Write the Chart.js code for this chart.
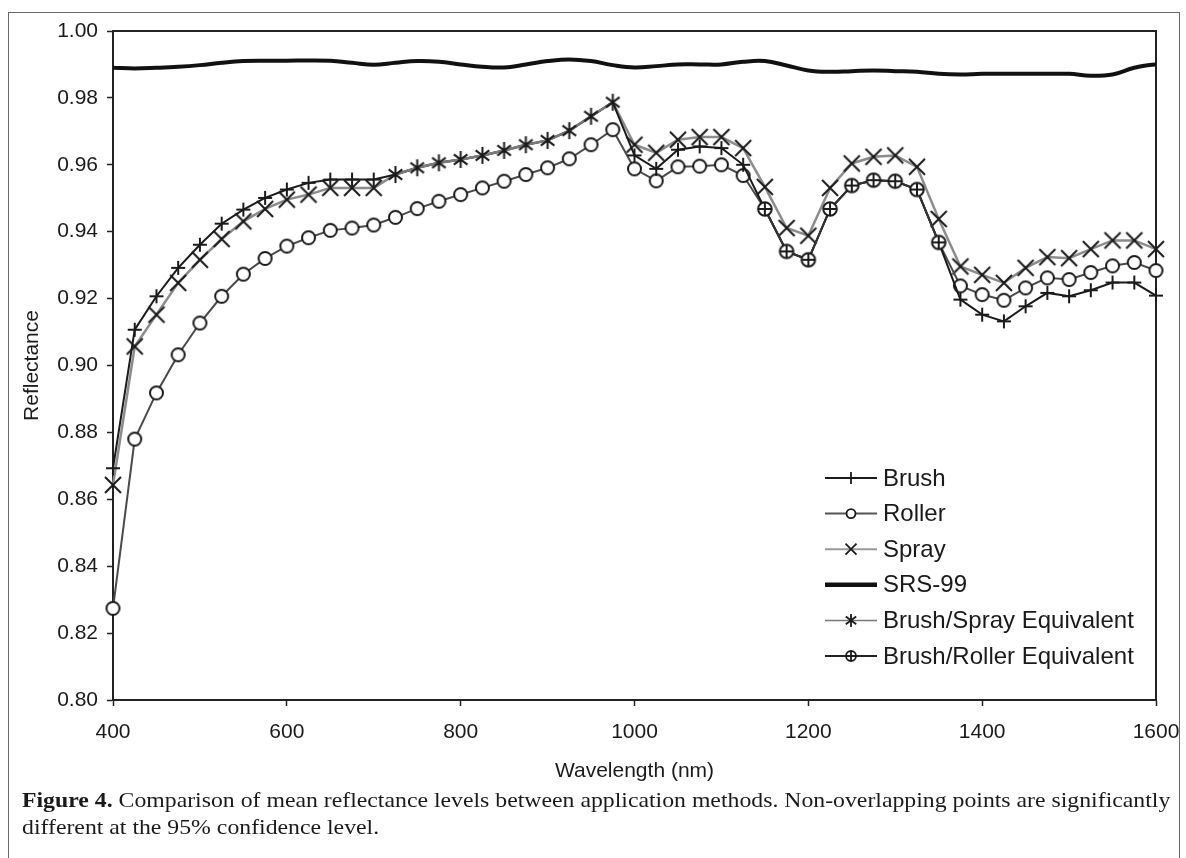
<!DOCTYPE html>
<html>
<head>
<meta charset="utf-8">
<script src="https://cdn.jsdelivr.net/npm/chart.js@4.4.1/dist/chart.umd.min.js"></script>
<style>
  html, body { margin: 0; padding: 0; background: #fff; }
  body { width: 1186px; height: 858px; position: relative; overflow: hidden; }
  #frame { position: absolute; left: 8px; top: 12px; width: 1170px; height: 900px; border: 1.5px solid #6a6a6a; }
  #c { position: absolute; left: 0; top: 0; }
  #caption { position: absolute; left: 22px; top: 786px; font-family: "Liberation Serif", "Times New Roman", serif;
             font-size: 22px; line-height: 27px; color: #1a1a1a; white-space: nowrap;
             transform: scaleX(1.08); transform-origin: left top; }
</style>
</head>
<body>
<div id="frame"></div>
<canvas id="c" width="1186" height="790"></canvas>
<div id="caption"><b>Figure 4.</b> Comparison of mean reflectance levels between application methods. Non-overlapping points are significantly<br>different at the 95% confidence level.</div>
<script>
// --- data ---
const wavelength = [400,425,450,475,500,525,550,575,600,625,650,675,700,
  725,750,775,800,825,850,875,900,925,950,975,
  1000,1025,1050,1075,1100,1125,
  1150,1175,1200,1225,1250,1275,1300,1325,1350,
  1375,1400,1425,1450,1475,1500,1525,1550,1575,1600,1625];

const brush = [0.8693,0.9107,0.9207,0.9292,0.9361,0.9424,0.9466,0.9501,0.9526,0.9546,0.9556,0.9556,0.9556,
  0.9571,0.9591,0.9606,0.9616,0.9628,0.9643,0.9660,0.9673,0.9702,0.9745,0.9787,
  0.9628,0.9588,0.9645,0.9655,0.9650,0.9600,
  0.9468,0.9341,0.9316,0.9468,0.9538,0.9554,0.9551,0.9526,0.9368,
  0.9197,0.9152,0.9132,0.9177,0.9217,0.9207,0.9225,0.9248,0.9248,0.9209,0.9137];

const roller = [0.8274,0.8780,0.8918,0.9032,0.9127,0.9207,0.9273,0.9320,0.9357,0.9382,0.9404,0.9411,0.9420,
  0.9443,0.9469,0.9491,0.9511,0.9531,0.9551,0.9571,0.9591,0.9618,0.9660,0.9705,
  0.9588,0.9552,0.9594,0.9596,0.9600,0.9568,
  0.9468,0.9341,0.9316,0.9468,0.9538,0.9554,0.9551,0.9526,0.9368,
  0.9238,0.9212,0.9195,0.9232,0.9262,0.9257,0.9278,0.9298,0.9308,0.9284,0.9220];

const spray = [0.8643,0.9057,0.9152,0.9247,0.9316,0.9378,0.9431,0.9468,0.9496,0.9511,0.9531,0.9531,0.9531,
  0.9571,0.9591,0.9606,0.9616,0.9628,0.9643,0.9660,0.9673,0.9702,0.9745,0.9787,
  0.9660,0.9636,0.9675,0.9683,0.9683,0.9650,
  0.9534,0.9411,0.9388,0.9531,0.9604,0.9624,0.9628,0.9594,0.9438,
  0.9296,0.9271,0.9247,0.9292,0.9324,0.9321,0.9348,0.9374,0.9374,0.9348,0.9278];

const srs99 = [0.9890,0.9888,0.9890,0.9893,0.9898,0.9905,0.9910,0.9911,0.9911,0.9912,0.9911,0.9905,0.9899,
  0.9905,0.9910,0.9908,0.9900,0.9893,0.9891,0.9900,0.9910,0.9915,0.9910,0.9898,
  0.9891,0.9895,0.9900,0.9900,0.9900,0.9908,
  0.9910,0.9897,0.9882,0.9878,0.9880,0.9882,0.9880,0.9878,0.9872,
  0.9870,0.9872,0.9872,0.9872,0.9872,0.9872,0.9866,0.9870,0.9890,0.9900,0.9890];

const brushSprayEq = [null,null,null,null,null,null,null,null,null,null,null,null,null,
  0.9571,0.9591,0.9606,0.9616,0.9628,0.9643,0.9660,0.9673,0.9702,0.9745,0.9787,
  null,null,null,null,null,null,
  null,null,null,null,null,null,null,null,null,
  null,null,null,null,null,null,null,null,null,null,null];

const brushRollerEq = [null,null,null,null,null,null,null,null,null,null,null,null,null,
  null,null,null,null,null,null,null,null,null,null,null,
  null,null,null,null,null,null,
  0.9468,0.9341,0.9316,0.9468,0.9538,0.9554,0.9551,0.9526,0.9368,
  null,null,null,null,null,null,null,null,null,null,null];

const yTicks = [0.80,0.82,0.84,0.86,0.88,0.90,0.92,0.94,0.96,0.98,1.00];
const xTicks = [400,600,800,1000,1200,1400,1600];

// --- markers ---
function drawMarker(g, kind, x, y, s) {
  g.beginPath();
  if (kind === "plus") {
    g.moveTo(x - s, y); g.lineTo(x + s, y);
    g.moveTo(x, y - s); g.lineTo(x, y + s);
    g.stroke();
  } else if (kind === "cross") {
    g.moveTo(x - s, y - s); g.lineTo(x + s, y + s);
    g.moveTo(x + s, y - s); g.lineTo(x - s, y + s);
    g.stroke();
  } else if (kind === "star") {
    const d = s * 0.8;
    g.moveTo(x - d, y - d * 0.75); g.lineTo(x + d, y + d * 0.75);
    g.moveTo(x + d, y - d * 0.75); g.lineTo(x - d, y + d * 0.75);
    g.moveTo(x, y - s); g.lineTo(x, y + s);
    g.stroke();
  } else if (kind === "circle" || kind === "oplus") {
    g.arc(x, y, s, 0, Math.PI * 2);
    g.fillStyle = "#fff"; g.fill(); g.stroke();
    if (kind === "oplus") {
      g.beginPath();
      g.moveTo(x - s, y); g.lineTo(x + s, y);
      g.moveTo(x, y - s); g.lineTo(x, y + s);
      g.stroke();
    }
  }
}
function markerCanvas(kind, s, lw) {
  const c = document.createElement("canvas");
  const n = Math.ceil(2 * s + lw + 2);
  c.width = c.height = n;
  const g = c.getContext("2d");
  g.strokeStyle = "#1a1a1a"; g.lineWidth = lw;
  drawMarker(g, kind, n / 2, n / 2, s);
  return c;
}
const mPlus = markerCanvas("plus", 7, 2);
const mCircle = markerCanvas("circle", 6.5, 2);
const mCross = markerCanvas("cross", 8, 2);
const mStar = markerCanvas("star", 8.5, 2);
const mOplus = markerCanvas("oplus", 6.8, 2);

const pts = arr => wavelength.map((w, i) => ({ x: w, y: arr[i] }));
const hideWhere = (...eqs) => c => eqs.some(e => e[c.dataIndex] !== null) ? 0 : 6;
const clip = { left: 14, top: 10, right: 9, bottom: 10 };

// --- legend drawn into the plot ---
const legendPlugin = {
  id: "inlegend",
  afterDraw(chart) {
    const ctx = chart.ctx;
    ctx.save();
    chart.data.datasets.forEach((ds, i) => {
      const y = 478 + i * 35.6;
      ctx.strokeStyle = ds.legendColor; ctx.lineWidth = ds.legendWidth;
      ctx.beginPath(); ctx.moveTo(825, y); ctx.lineTo(877, y); ctx.stroke();
      if (ds.legendMarker) {
        ctx.strokeStyle = "#1a1a1a"; ctx.lineWidth = 1.8;
        drawMarker(ctx, ds.legendMarker, 851, y, ds.legendSize);
      }
      ctx.fillStyle = "#1a1a1a";
      ctx.font = "24px 'Liberation Sans', Arial, sans-serif";
      ctx.textBaseline = "middle"; ctx.textAlign = "left";
      ctx.fillText(ds.label, 883, y + 1);
    });
    ctx.restore();
  }
};
const framePlugin = {
  id: "plotframe",
  beforeDatasetsDraw(chart) {
    const { ctx, chartArea: a } = chart;
    ctx.save();
    ctx.strokeStyle = "#222"; ctx.lineWidth = 2;
    ctx.beginPath(); ctx.moveTo(a.left, a.top); ctx.lineTo(a.right, a.top); ctx.lineTo(a.right, a.bottom); ctx.stroke();
    ctx.restore();
  }
};

Chart.defaults.font.family = "'Liberation Sans', Arial, sans-serif";
Chart.defaults.color = "#1a1a1a";

new Chart(document.getElementById("c"), {
  type: "line",
  data: {
    datasets: [
      { label: "Brush", data: pts(brush), borderColor: "#1a1a1a", borderWidth: 2, order: 3,
        pointStyle: mPlus, pointRadius: hideWhere(brushSprayEq, brushRollerEq),
        legendColor: "#1a1a1a", legendWidth: 2, legendMarker: "plus", legendSize: 6 },
      { label: "Roller", data: pts(roller), borderColor: "#4a4a4a", borderWidth: 2, order: 4,
        pointStyle: mCircle, pointRadius: hideWhere(brushRollerEq),
        legendColor: "#555", legendWidth: 2, legendMarker: "circle", legendSize: 4.5 },
      { label: "Spray", data: pts(spray), borderColor: "#8c8c8c", borderWidth: 2.5, order: 5,
        pointStyle: mCross, pointRadius: hideWhere(brushSprayEq),
        legendColor: "#999", legendWidth: 2, legendMarker: "cross", legendSize: 5.5 },
      { label: "SRS-99", data: pts(srs99), borderColor: "#111", borderWidth: 4, order: 6,
        pointRadius: 0, tension: 0.4,
        legendColor: "#111", legendWidth: 4.5, legendMarker: null },
      { label: "Brush/Spray Equivalent", data: pts(brushSprayEq), borderColor: "#7a7a7a", borderWidth: 2.5, order: 2,
        pointStyle: mStar, pointRadius: 6,
        legendColor: "#777", legendWidth: 1.5, legendMarker: "star", legendSize: 6.5 },
      { label: "Brush/Roller Equivalent", data: pts(brushRollerEq), borderColor: "#333", borderWidth: 2, order: 1,
        pointStyle: mOplus, pointRadius: 6,
        legendColor: "#222", legendWidth: 2, legendMarker: "oplus", legendSize: 5 }
    ].map(d => Object.assign({ clip, spanGaps: false, fill: false }, d, { tension: d.tension || 0 }))
  },
  options: {
    responsive: false,
    animation: false,
    events: [],
    layout: { padding: { left: 0, right: 30, top: 31, bottom: 0 } },
    plugins: { legend: { display: false }, tooltip: { enabled: false } },
    scales: {
      x: {
        type: "linear", min: 400, max: 1600,
        afterFit: s => { s.height = 90; s.paddingLeft = 0; s.paddingRight = 0; },
        afterBuildTicks: s => { s.ticks = xTicks.map(v => ({ value: v })); },
        ticks: { font: { size: 21 }, padding: 14, maxRotation: 0, callback: v => String(v) },
        grid: { drawOnChartArea: false, tickLength: 6, tickColor: "#222", tickWidth: 1.5 },
        border: { color: "#222", width: 2 },
        title: { display: true, text: "Wavelength (nm)", font: { size: 21 }, padding: { bottom: 6 } }
      },
      y: {
        min: 0.80, max: 1.00,
        afterFit: s => { s.width = 113; s.paddingTop = 0; s.paddingBottom = 0; },
        afterBuildTicks: s => { s.ticks = yTicks.map(v => ({ value: v })); },
        ticks: { font: { size: 21 }, padding: 9, callback: v => v.toFixed(2) },
        grid: { drawOnChartArea: false, tickLength: 6, tickColor: "#222", tickWidth: 1.5 },
        border: { color: "#222", width: 2 },
        title: { display: true, text: "Reflectance", font: { size: 21 }, padding: { top: 20 } }
      }
    }
  },
  plugins: [legendPlugin, framePlugin]
});
</script>
</body>
</html>
